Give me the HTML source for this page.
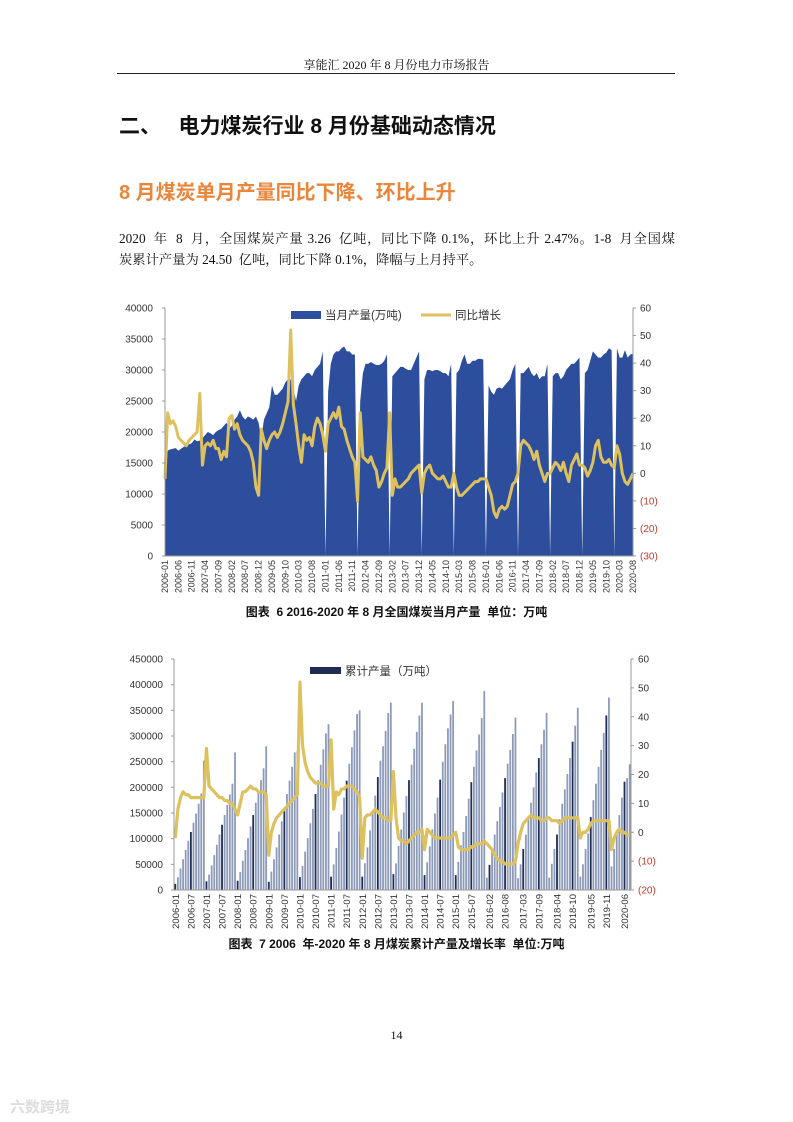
<!DOCTYPE html>
<html><head><meta charset="utf-8">
<style>
body{margin:0;background:#fff;}
#page{position:relative;width:793px;height:1122px;overflow:hidden;background:#fff;font-family:"Liberation Serif","Noto Serif CJK SC",serif;color:#111;}
.t{position:absolute;white-space:nowrap;}
svg text{font-family:"Liberation Sans","Noto Sans CJK SC",sans-serif;}
</style></head><body>
<div id="page">
<div class="t" style="left:0;width:793px;text-align:center;top:56px;font-size:12px;">享能汇 2020 年 8 月份电力市场报告</div>
<div style="position:absolute;left:117px;top:73px;width:558px;height:1px;background:#222;"></div>
<div class="t" style="left:119px;top:110px;font-size:21px;font-weight:bold;font-family:'Liberation Sans','Noto Sans CJK SC',sans-serif;">二、&nbsp;&nbsp;&nbsp;电力煤炭行业 8 月份基础动态情况</div>
<div class="t" style="left:119px;top:176px;font-size:20px;font-weight:bold;color:#E8863C;font-family:'Liberation Sans','Noto Sans CJK SC',sans-serif;">8 月煤炭单月产量同比下降、环比上升</div>
<div style="position:absolute;left:119px;top:228px;width:556px;font-size:13.3px;line-height:21px;">
<div style="text-align:justify;text-align-last:justify;white-space:nowrap;">2020&nbsp; 年&nbsp; 8&nbsp; 月，全国煤炭产量 3.26&nbsp; 亿吨，同比下降 0.1%，环比上升 2.47%。1-8&nbsp; 月全国煤</div>
<div style="white-space:nowrap;">炭累计产量为 24.50&nbsp; 亿吨，同比下降 0.1%，降幅与上月持平。</div>
</div>

<svg id="c1" style="position:absolute;left:0;top:0;" width="793" height="600"></svg>
<div class="t" style="left:0;width:793px;text-align:center;top:603px;font-size:12px;font-weight:bold;font-family:'Liberation Sans','Noto Sans CJK SC',sans-serif;">图表&nbsp; 6 2016-2020 年 8 月全国煤炭当月产量&nbsp; 单位：万吨</div>

<svg id="c2" style="position:absolute;left:0;top:0;" width="793" height="940"></svg>
<div class="t" style="left:0;width:793px;text-align:center;top:935px;font-size:12px;font-weight:bold;font-family:'Liberation Sans','Noto Sans CJK SC',sans-serif;">图表&nbsp; 7 2006&nbsp; 年-2020 年 8 月煤炭累计产量及增长率&nbsp; 单位:万吨</div>

<div class="t" style="left:0;width:793px;text-align:center;top:1028px;font-size:12px;">14</div>
<div class="t" style="left:10px;top:1096px;font-size:15px;color:#ddd;font-family:'Liberation Sans','Noto Sans CJK SC',sans-serif;font-weight:bold;">六数跨境</div>
</div>
<script>
// ---------- Chart 1 data ----------
const monthly = [
12500,17000,17200,17300,17400,17000,17300,17600,17800,18000,18200,18800,
18500,18600,19000,19500,20000,19800,19500,20000,20300,20500,21000,21500,
20500,21000,22000,22500,23500,22500,22000,22500,22300,22000,22500,21500,
19000,22000,23000,24000,27500,26000,26000,26500,27000,28000,28500,28500,
27000,25000,27500,28500,29000,29500,29500,29000,30000,30500,31000,33000,
0,26500,31000,32500,33000,33000,33500,33800,33000,33000,32500,32500,
0,25000,29500,31000,31000,31300,31000,30800,30800,31000,31500,32500,
0,29000,29500,30000,30500,30500,30200,30000,30000,31000,32000,33000,
0,28500,30000,30000,29800,30000,30000,29800,29500,29500,29000,31000,
0,29500,30000,31500,32500,31000,31000,31500,31500,31800,31800,31700,
0,27500,26500,26000,27000,27200,27000,27500,28000,28500,30000,31000,
0,29500,29500,30000,30500,29500,29000,29500,28500,29000,29000,31000,
0,29000,29500,29500,28500,29000,30000,30500,31000,31000,31500,32000,
0,29500,30000,31500,33000,32500,32000,32000,32500,32800,33500,33200,
0,33500,32000,32000,33200,32000,32500,32600];
const yoy1 = [
-2,22,18,19,17,13,12,11,10,12,13,14,
15,29,3,10,11,10,12,9,9,5,8,6,
20,21,16,18,14,12,11,10,8,4,-5,-8,
16,12,9,12,14,15,13,15,18,22,26,52,
25,18,10,4,14,12,13,10,17,20,18,14,
8,18,20,22,20,24,17,16,12,9,6,4,
-10,22,6,5,4,6,3,1,-5,-3,0,2,
22,-8,-2,-5,-5,-4,-3,-2,0,1,2,3,
-7,0,2,3,0,-1,-2,-2,-1,-3,-5,-5,
0,-5,-8,-8,-7,-6,-5,-4,-3,-3,-2,-2,
-2,-5,-8,-14,-16,-13,-12,-13,-12,-8,-4,-3,
0,10,12,11,10,8,5,8,3,0,-3,0,
0,2,4,3,1,4,0,-3,3,5,7,3,
3,2,-1,1,4,10,12,6,4,4,5,3,
2,10,7,0,-3,-4,-2,0];
const leftTicks1 = [0,5000,10000,15000,20000,25000,30000,35000,40000];
const rightTicks1 = [-30,-20,-10,0,10,20,30,40,50,60];

// ---------- Chart 2 data ----------
const cumulative = [
12000,25000,42000,60000,78000,96000,113000,131000,149000,168000,188000,252000,
17000,30000,48000,68000,88000,108000,127000,146000,166000,186000,207000,268000,
18000,35000,57000,78000,101000,124000,146000,170000,193000,214000,237000,280000,
16000,36000,60000,83000,108000,134000,160000,187000,213000,240000,268000,270000,
25000,47000,75000,101000,130000,158000,187000,214000,244000,274000,305000,323000,
26000,50000,82000,114000,147000,180000,213000,246000,278000,311000,343000,350000,
26000,52000,83000,116000,149000,184000,220000,252000,280000,310000,345000,365000,
31000,52000,86000,118000,151000,183000,214000,244000,275000,308000,340000,365000,
29000,54000,85000,118000,149000,180000,215000,250000,284000,315000,342000,368000,
29000,55000,87000,113000,144000,178000,210000,240000,272000,303000,335000,388000,
24000,49000,80000,108000,134000,162000,190000,218000,246000,273000,304000,336000,
23000,50000,80000,108000,138000,170000,200000,229000,257000,284000,312000,345000,
24000,51000,80000,108000,138000,168000,196000,226000,257000,289000,320000,355000,
26000,50000,80000,110000,142000,175000,207000,240000,273000,306000,340000,375000,
46000,80000,113000,146000,180000,211000,218000,245000];
const yoy2 = [
-2,8,12,14,13,13,12,12,12,12,12,12,
29,16,15,14,13,12,12,11,11,10,10,8,
6,10,14,14,15,16,15,15,14,14,14,13,
-8,0,3,5,6,7,8,9,10,11,12,13,
52,30,24,21,19,18,17,17,17,16,16,16,
32,8,14,13,15,15,16,16,16,15,14,12,
-9,5,6,6,7,8,7,6,5,5,4,4,
21,5,-2,-3,-3,-4,-3,-2,-1,0,0,1,
-6,1,0,-1,-2,-2,-2,-2,-2,-2,-2,-1,
0,-5,-6,-6,-6,-6,-5,-5,-4,-4,-4,-3,
-4,-5,-6,-8,-9,-10,-10,-11,-11,-11,-11,-10,
-4,0,3,4,5,6,5,5,5,4,4,5,
5,4,4,4,3,4,5,5,5,5,5,5,
-2,0,0,1,3,4,4,4,4,4,4,4,
-6,-2,0,1,0,0,-1,-1];
const xLabels2 = ["2006-01","2006-07","2007-01","2007-07","2008-01","2008-07","2009-01","2009-07","2010-01","2010-07","2011-01","2011-07","2012-01","2012-07","2013-01","2013-07","2014-01","2014-07","2015-01","2015-07","2016-02","2016-08","2017-03","2017-09","2018-04","2018-10","2019-05","2019-11","2020-06"];
const leftTicks2 = [0,50000,100000,150000,200000,250000,300000,350000,400000,450000];
const rightTicks2 = [-20,-10,0,10,20,30,40,50,60];

const NS="http://www.w3.org/2000/svg";
function mk(parent,tag,attrs){const e=document.createElementNS(NS,tag);for(const k in attrs)e.setAttribute(k,attrs[k]);parent.appendChild(e);return e;}
function monthLabel(i){const y=2006+Math.floor(i/12),m=i%12+1;return y+"-"+(m<10?"0":"")+m;}
function fmtR(v){return v<0?"("+(-v)+")":String(v);}

// ---------- draw chart 1 ----------
(function(){
const svg=document.getElementById('c1');
const L=165,R=633,T=308,B=556,n=monthly.length;
const x=i=>L+i*(R-L)/(n-1);
const yL=v=>B-v/40000*(B-T);
const yR=v=>B-(v+30)/90*(B-T);
let d="M"+x(0)+","+B;
monthly.forEach((v,i)=>{d+=" L"+x(i).toFixed(2)+","+yL(v).toFixed(2);});
d+=" L"+x(n-1)+","+B+" Z";
const area=mk(svg,'path',{d:d,fill:'#2D4E9C'});


let dl="";
yoy1.forEach((v,i)=>{dl+=(i?" L":"M")+x(i).toFixed(2)+","+yR(v).toFixed(2);});
const line=mk(svg,'path',{d:dl,fill:'none',stroke:'#DCC15E','stroke-width':3,'stroke-linejoin':'round'});


mk(svg,'line',{x1:L,y1:T,x2:L,y2:B,stroke:'#999','stroke-width':1});
mk(svg,'line',{x1:R,y1:T,x2:R,y2:B,stroke:'#999','stroke-width':1});
mk(svg,'line',{x1:L,y1:B,x2:R,y2:B,stroke:'#999','stroke-width':1});
leftTicks1.forEach(v=>{
 const t=mk(svg,'text',{x:L-12,y:yL(v)+3.5,'text-anchor':'end','font-size':10,fill:'#333'});t.textContent=v;
 
 
 mk(svg,'line',{x1:L-3,y1:yL(v),x2:L,y2:yL(v),stroke:'#999'});
});
rightTicks1.forEach(v=>{
 const t=mk(svg,'text',{x:R+7,y:yR(v)+3.5,'font-size':10,fill:v<0?'#C0392B':'#333'});t.textContent=fmtR(v);
 
 
 mk(svg,'line',{x1:R,y1:yR(v),x2:R+3,y2:yR(v),stroke:'#999'});
});
for(let i=0;i<n;i+=5){
 const t=mk(svg,'text',{x:0,y:0,'text-anchor':'end','font-size':9,fill:'#333',transform:`translate(${x(i)+3},${B+4}) rotate(-90)`});
 t.textContent=monthLabel(i);
 
 
}
const lg=mk(svg,'rect',{x:291,y:311,width:30,height:8,fill:'#2D4E9C'});


const lt=mk(svg,'text',{x:325,y:319,'font-size':11.5,fill:'#333'});lt.textContent='当月产量(万吨)';


const ll=mk(svg,'line',{x1:421,y1:315,x2:451,y2:315,stroke:'#DCC15E','stroke-width':3});


const lt2=mk(svg,'text',{x:455,y:319,'font-size':11.5,fill:'#333'});lt2.textContent='同比增长';


})();

// ---------- draw chart 2 ----------
(function(){
const svg=document.getElementById('c2');
const L=174,R=631,T=659,B=890,n=cumulative.length;
const step=(R-L)/n;
const x=i=>L+(i+0.5)*step;
const yL=v=>B-v/450000*(B-T);
const yR=v=>B-(v+20)/80*(B-T);
const dark=new Set(xLabels2.map(s=>{const [y,m]=s.split('-').map(Number);return (y-2006)*12+m-1;}));
cumulative.forEach((v,i)=>{
 const b=mk(svg,'rect',{x:(x(i)-0.9).toFixed(2),y:yL(v).toFixed(2),width:1.8,height:(B-yL(v)).toFixed(2),fill:dark.has(i)?'#1F2D55':'#8D9BB8'});
 
 
});
let dl="";
yoy2.forEach((v,i)=>{dl+=(i?" L":"M")+x(i).toFixed(2)+","+yR(v).toFixed(2);});
const line=mk(svg,'path',{d:dl,fill:'none',stroke:'#DCC15E','stroke-width':3.2,'stroke-linejoin':'round'});


mk(svg,'line',{x1:L,y1:T,x2:L,y2:B,stroke:'#999'});
mk(svg,'line',{x1:R,y1:T,x2:R,y2:B,stroke:'#999'});
mk(svg,'line',{x1:L,y1:B,x2:R,y2:B,stroke:'#999'});
leftTicks2.forEach(v=>{
 const t=mk(svg,'text',{x:L-11,y:yL(v)+3.5,'text-anchor':'end','font-size':10,fill:'#333'});t.textContent=v;
 
 
 mk(svg,'line',{x1:L-3,y1:yL(v),x2:L,y2:yL(v),stroke:'#999'});
});
rightTicks2.forEach(v=>{
 const t=mk(svg,'text',{x:R+7,y:yR(v)+3.5,'font-size':10,fill:v<0?'#C0392B':'#333'});t.textContent=fmtR(v);
 
 
 mk(svg,'line',{x1:R,y1:yR(v),x2:R+3,y2:yR(v),stroke:'#999'});
});
xLabels2.forEach(s=>{
 const [y,m]=s.split('-').map(Number);const i=(y-2006)*12+m-1;
 const t=mk(svg,'text',{x:0,y:0,'text-anchor':'end','font-size':9.5,fill:'#333',transform:`translate(${x(i)+3.5},${B+4}) rotate(-90)`});
 t.textContent=s;
 
 
});
const lg=mk(svg,'rect',{x:310,y:667,width:31,height:7,fill:'#1F2D55'});


const lt=mk(svg,'text',{x:345,y:675,'font-size':11.5,fill:'#333'});lt.textContent='累计产量（万吨）';


})();
</script>
</body></html>
